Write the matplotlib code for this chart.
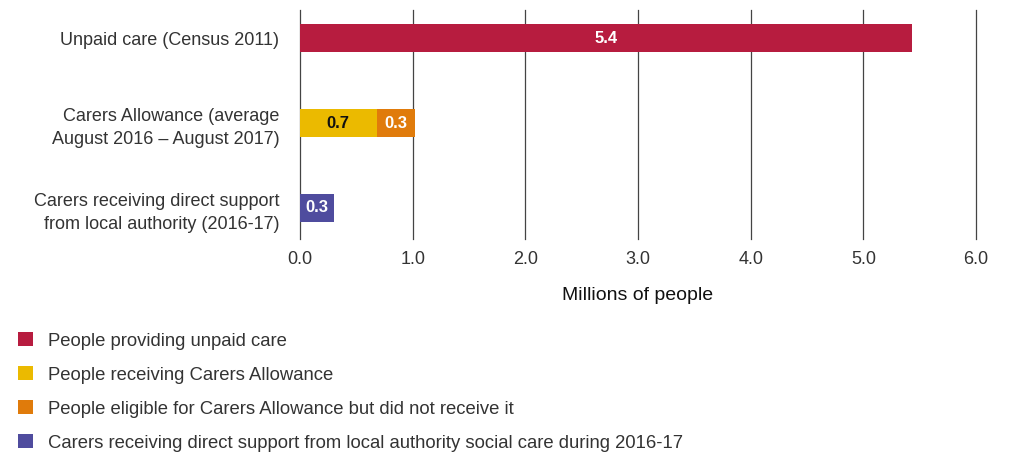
import matplotlib
matplotlib.use("Agg")
import matplotlib.pyplot as plt
from matplotlib.patches import Patch

plt.rcParams['font.family'] = ['Liberation Sans', 'DejaVu Sans']

# Data (millions of people)
categories = [
    "Unpaid care (Census 2011)",
    "Carers Allowance (average\nAugust 2016 \u2013 August 2017)",
    "Carers receiving direct support\nfrom local authority (2016-17)",
]
unpaid_care = [5.43, 0.0, 0.0]
receiving_allowance = [0.0, 0.68, 0.0]
eligible_not_receiving = [0.0, 0.34, 0.0]
local_authority = [0.0, 0.0, 0.30]

series_labels = [
    "People providing unpaid care",
    "People receiving Carers Allowance",
    "People eligible for Carers Allowance but did not receive it",
    "Carers receiving direct support from local authority social care during 2016-17",
]
colors = ["#B71C3F", "#EBBA00", "#E07B0B", "#4F4C9E"]
label_colors = ["white", "#111111", "white", "white"]
x_ticks = [0.0, 1.0, 2.0, 3.0, 4.0, 5.0, 6.0]

fig = plt.figure(figsize=(10.09, 4.53), dpi=100)
ax = fig.add_axes([300 / 1009, 1 - 239 / 453, 676 / 1009, 229 / 453])

y = list(range(len(categories)))
bar_h = 0.326
series = [unpaid_care, receiving_allowance, eligible_not_receiving, local_authority]
left = [0.0] * len(categories)
for vals, col, tcol in zip(series, colors, label_colors):
    bars = ax.barh(y, vals, left=left, height=bar_h, color=col, zorder=3)
    for b, v, l in zip(bars, vals, left):
        if v > 0:
            ax.text(l + v / 2, b.get_y() + b.get_height() / 2, f"{v:.1f}",
                    ha="center", va="center", color=tcol, fontsize=12,
                    fontweight="bold", zorder=4)
    left = [a + b for a, b in zip(left, vals)]

ax.set_xlim(0, 6.0)
ax.set_ylim(2.365, -0.33)
ax.set_xticks(x_ticks)
ax.set_xticklabels([f"{t:.1f}" for t in x_ticks], fontsize=13, color="#333333")
ax.set_yticks(y)
ax.set_yticklabels(categories, fontsize=13, color="#333333", linespacing=1.45)
ax.tick_params(axis="both", length=0)
ax.tick_params(axis="x", pad=9)
ax.tick_params(axis="y", pad=15)
ax.grid(axis="x", color="#444444", linewidth=0.9, zorder=0)
for gl in ax.get_xgridlines():
    gl.set_clip_on(False)
for s in ax.spines.values():
    s.set_visible(False)
ax.set_xlabel("Millions of people", fontsize=14, color="#111111", labelpad=13)

handles = [Patch(facecolor=c, edgecolor="none") for c in colors]
fig.legend(handles, series_labels, loc="upper left",
           bbox_to_anchor=(11 / 1009, 1 - 325 / 453), frameon=False,
           fontsize=13.3, handlelength=0.78, handleheight=0.78,
           handletextpad=0.85, labelspacing=0.9, labelcolor="#333333",
           borderaxespad=0)

fig.savefig("out.png", dpi=100)
